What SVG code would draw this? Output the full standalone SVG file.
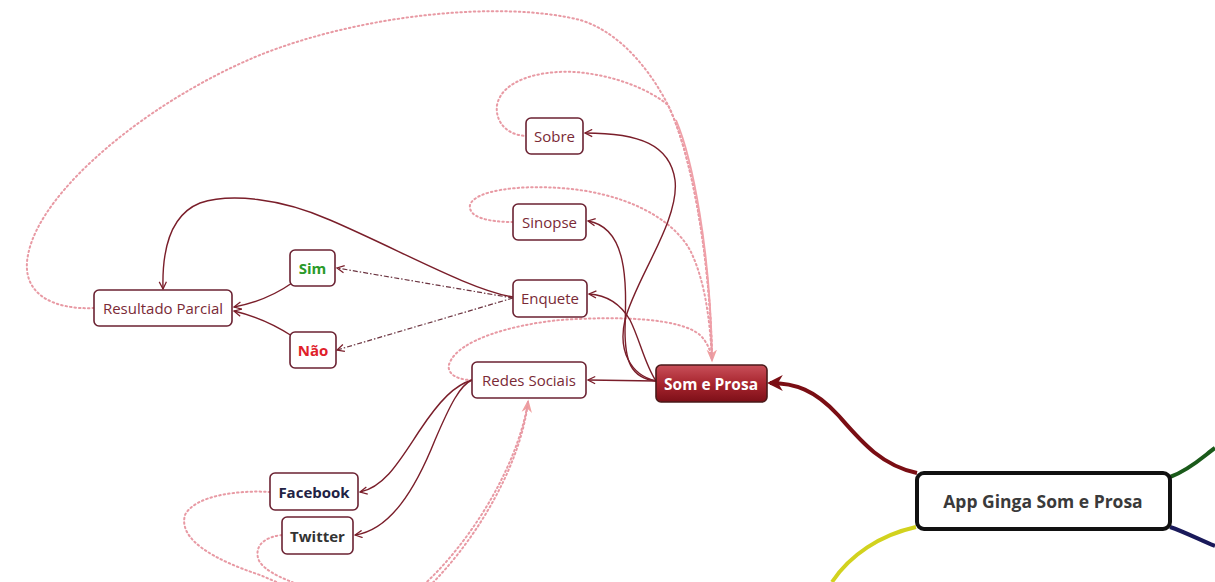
<svg xmlns="http://www.w3.org/2000/svg" width="1215" height="582" viewBox="0 0 1215 582">
<defs>
<style>
.node rect{fill:#fff;stroke:#6b2232;stroke-width:1.6}
.t{font-family:"Open Sans","Noto Sans",sans-serif;font-size:15px;text-anchor:middle;dominant-baseline:central;fill:#7a2a36}
.b{font-weight:bold}
.c{fill:none;stroke:#7a1e2a;stroke-width:1.4}
.dd{fill:none;stroke:#6b3440;stroke-width:1.2;stroke-dasharray:5,2,1.5,2}
.rel{fill:none;stroke:#e89aa4;stroke-width:2;stroke-dasharray:1.5,3;stroke-linecap:round}
</style>
<linearGradient id="g" x1="0" y1="0" x2="0" y2="1">
<stop offset="0" stop-color="#c9505a"/>
<stop offset="0.5" stop-color="#a8262f"/>
<stop offset="1" stop-color="#7d0f18"/>
</linearGradient>
<marker id="a" viewBox="0 0 10 10" refX="9" refY="5" markerWidth="9" markerHeight="9" markerUnits="userSpaceOnUse" orient="auto">
<path d="M1,1 L9,5 L1,9" fill="none" stroke="#7a1e2a" stroke-width="1.4"/>
</marker>
<marker id="big" viewBox="0 0 10 10" refX="8" refY="5" markerWidth="16" markerHeight="16" markerUnits="userSpaceOnUse" orient="auto">
<path d="M0,0 L10,5 L0,10 L3,5 Z" fill="#7a0e14"/>
</marker>
<marker id="pk" viewBox="0 0 10 10" refX="8" refY="5" markerWidth="13" markerHeight="13" markerUnits="userSpaceOnUse" orient="auto">
<path d="M0,1 L10,5 L0,9 L3,5 Z" fill="#f0a0a0"/>
</marker>
</defs>
<rect width="1215" height="582" fill="#fff"/>
<g id="connectors">
<path d="M917,473 C880,465 860,440 838,415 C815,390 795,383 770,383" fill="none" stroke="#7a0e14" stroke-width="4" marker-end="url(#big)"/>
<path d="M1170,477 C1190,470 1205,455 1215,448" fill="none" stroke="#1a5a1a" stroke-width="4"/>
<path d="M1170,527 C1185,532 1200,540 1215,546" fill="none" stroke="#1a1a5a" stroke-width="4"/>
<path d="M916,527 C880,535 850,555 832,582" fill="none" stroke="#d2d21e" stroke-width="4"/>
<path class="rel" d="M94,308 C55,310 20,295 28,255 C40,190 150,100 260,55 C360,15 500,0 580,20 C620,32 650,70 668,105 C690,150 710,250 712,360" marker-end="url(#pk)"/>
<path class="rel" stroke-dashoffset="2" d="M526,136 C505,135 495,120 497,105 C502,80 540,70 575,72 C615,75 650,90 668,105 C690,150 710,250 712,360"/>
<path d="M676,120 C693,160 710,250 712,355" fill="none" stroke="#f0a0a8" stroke-width="1.8"/>
<path class="rel" d="M513,222 C490,222 468,218 470,205 C475,190 520,185 560,188 C620,192 670,215 690,250 C705,280 710,320 712,360"/>
<path class="rel" d="M472,380 C455,380 445,372 450,362 C460,340 510,325 560,320 C620,316 680,318 700,335 C708,343 711,352 712,360"/>
<path class="rel" d="M270,492 C240,490 195,495 185,515 C178,540 215,560 260,575 L300,592"/>
<path class="rel" d="M282,535 C265,537 255,545 258,558 C262,572 290,582 320,592"/>
<path class="rel" d="M420,595 C470,550 520,470 528,402" marker-end="url(#pk)"/>
<path class="rel" stroke-dashoffset="2" d="M412,595 C465,552 517,470 528,402"/>
<path class="c" d="M656,381 L588,380" marker-end="url(#a)"/>
<path class="c" d="M656,381 C645,365 640,340 630,320 C620,303 605,295 589,294" marker-end="url(#a)"/>
<path class="c" d="M656,381 C630,378 625,360 625,330 C626,290 630,228 588,221" marker-end="url(#a)"/>
<path class="c" d="M656,381 C630,375 618,350 625,320 C635,280 680,220 675,180 C670,145 640,133 585,133" marker-end="url(#a)"/>
<path class="dd" d="M513,298 L337,268" marker-end="url(#a)"/>
<path class="dd" d="M513,298 L337,350" marker-end="url(#a)"/>
<path class="c" d="M513,297 C470,290 400,250 330,220 C280,198 230,193 200,203 C170,215 162,250 163,289" marker-end="url(#a)"/>
<path class="c" d="M292,283 C275,295 255,303 234,307" marker-end="url(#a)"/>
<path class="c" d="M292,336 C275,325 255,316 234,311" marker-end="url(#a)"/>
<path class="c" d="M472,380 C455,385 440,400 420,430 C400,460 385,487 360,492" marker-end="url(#a)"/>
<path class="c" d="M472,380 C460,385 450,405 435,440 C415,490 390,530 355,535" marker-end="url(#a)"/>
</g>
<g id="n-app" class="node"><rect x="917" y="473" width="253" height="56" rx="7" style="stroke:#111;stroke-width:4"/><text class="t b" x="1043" y="501" style="fill:#3a3a3a;font-size:17.5px">App Ginga Som e Prosa</text></g>
<g id="n-somprosa"><rect x="656" y="365" width="111" height="37" rx="5" fill="url(#g)" stroke="#4a1a1a" stroke-width="1.6"/><text class="t b" x="711" y="383.5" style="fill:#fff;font-size:15.5px">Som e Prosa</text></g>
<g id="n-sobre" class="node"><rect x="526" y="118" width="57" height="36" rx="5"/><text class="t" x="554.5" y="136">Sobre</text></g>
<g id="n-sinopse" class="node"><rect x="513" y="204" width="73" height="36" rx="5"/><text class="t" x="549.5" y="222">Sinopse</text></g>
<g id="n-enquete" class="node"><rect x="513" y="280" width="74" height="37" rx="5"/><text class="t" x="550" y="298">Enquete</text></g>
<g id="n-resultado" class="node"><rect x="94" y="290" width="138" height="36" rx="5"/><text class="t" x="163" y="308">Resultado Parcial</text></g>
<g id="n-sim" class="node"><rect x="290" y="250" width="45" height="36" rx="5"/><text class="t b" x="312.5" y="268" style="fill:#2a9a2a">Sim</text></g>
<g id="n-nao" class="node"><rect x="290" y="332" width="46" height="36" rx="5"/><text class="t b" x="313" y="350" style="fill:#e0202a">Não</text></g>
<g id="n-redes" class="node"><rect x="472" y="362" width="114" height="36" rx="5"/><text class="t" x="529" y="380">Redes Sociais</text></g>
<g id="n-facebook" class="node"><rect x="270" y="473" width="88" height="37" rx="5"/><text class="t b" x="314" y="491.5" style="fill:#222244">Facebook</text></g>
<g id="n-twitter" class="node"><rect x="282" y="517" width="71" height="37" rx="5"/><text class="t b" x="317.5" y="535.5" style="fill:#333">Twitter</text></g>
</svg>
